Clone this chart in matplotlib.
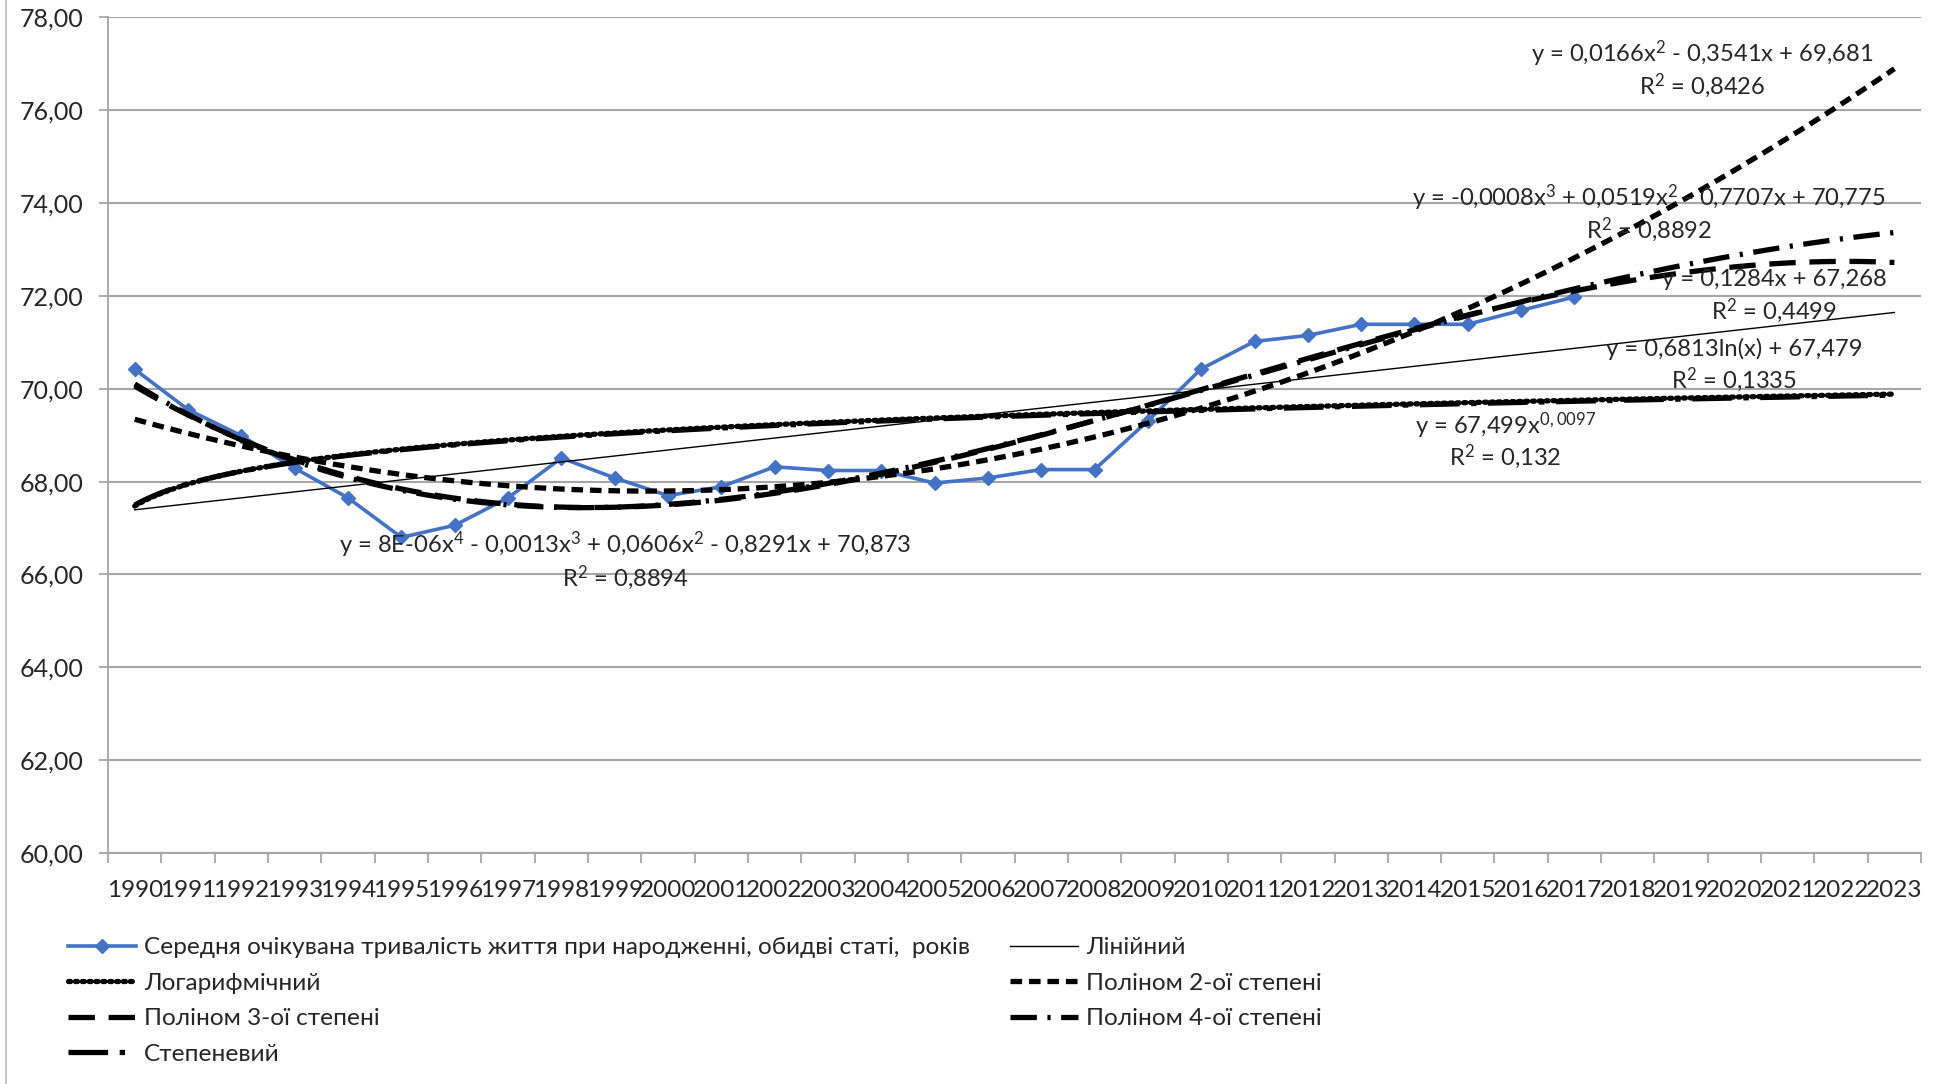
import numpy as np
import matplotlib.pyplot as plt
from matplotlib.lines import Line2D

plt.rcParams['font.family'] = ['Lato', 'DejaVu Sans']
plt.rcParams['mathtext.fontset'] = 'custom'
plt.rcParams['mathtext.rm'] = 'Lato'
plt.rcParams['mathtext.default'] = 'regular'

# Life expectancy at birth, both sexes, 1990-2017
years = list(range(1990, 2024))
life_exp = [70.42, 69.55, 68.99, 68.29, 67.65, 66.80, 67.06, 67.65, 68.51, 68.08,
            67.70, 67.89, 68.32, 68.24, 68.24, 67.97, 68.08, 68.26, 68.26, 69.31,
            70.43, 71.02, 71.15, 71.39, 71.39, 71.39, 71.69, 71.98]

series_label = "Середня очікувана тривалість життя при народженні, обидві статі,  років"
trend_names = ["Лінійний", "Логарифмічний", "Поліном 2-ої степені",
               "Поліном 3-ої степені", "Поліном 4-ої степені", "Степеневий"]

eq_linear = ["y = 0,1284x + 67,268", "R$^2$ = 0,4499"]
eq_log = ["y = 0,6813ln(x) + 67,479", "R$^2$ = 0,1335"]
eq_poly2 = ["y = 0,0166x$^2$ - 0,3541x + 69,681", "R$^2$ = 0,8426"]
eq_poly3 = ["y = -0,0008x$^3$ + 0,0519x$^2$ - 0,7707x + 70,775", "R$^2$ = 0,8892"]
eq_poly4 = ["y = 8E-06x$^4$ - 0,0013x$^3$ + 0,0606x$^2$ - 0,8291x + 70,873", "R$^2$ = 0,8894"]
eq_power = ["y = 67,499x$^{0,0097}$", "R$^2$ = 0,132"]

# trendlines are least-squares fits over x = 1..n, forecast to the last category
x = np.arange(1, len(life_exp) + 1)
y = np.array(life_exp)
xf = np.linspace(1, len(years), 400)
lin = np.polyval(np.polyfit(x, y, 1), xf)
logf = np.polyval(np.polyfit(np.log(x), y, 1), np.log(xf))
p2 = np.polyval(np.polyfit(x, y, 2), xf)
p3 = np.polyval(np.polyfit(x, y, 3), xf)
p4 = np.polyval(np.polyfit(x, y, 4), xf)
b, lna = np.polyfit(np.log(x), np.log(y), 1)
pw = np.exp(lna) * xf ** b

fig = plt.figure(figsize=(19.44, 10.84), dpi=100)
ax = fig.add_axes([0.0556, 0.2131, 0.9326, 0.7708])

grid_c = '#a6a6a6'
text_c = '#262626'
blue = '#4472c4'
ax.plot(np.arange(len(life_exp)), life_exp, color=blue, lw=2.6, marker='D',
        markersize=7, zorder=2, label=series_label)

lw = 3.8
styles = {
    "Лінійний": dict(ls='-', lw=1.0),
    "Логарифмічний": dict(ls=(0, (0.4, 0.9)), lw=lw, dash_capstyle='round'),
    "Поліном 2-ої степені": dict(ls=(0, (2.2, 1.3)), lw=lw),
    "Поліном 3-ої степені": dict(ls=(0, (5.0, 2.6)), lw=lw),
    "Поліном 4-ої степені": dict(ls=(0, (5.0, 2.0, 0.6, 2.0)), lw=lw),
    "Степеневий": dict(ls=(0, (7.5, 2.2, 1.0, 2.2)), lw=lw),
}
curves = [lin, logf, p2, p3, p4, pw]
handles = {series_label: ax.lines[0]}
for name, yv in zip(trend_names, curves):
    h, = ax.plot(xf - 1, yv, color='black', zorder=3, label=name, **styles[name])
    handles[name] = h

ax.set_xlim(-0.5, len(years) - 0.5)
ax.set_ylim(60, 78)
ax.set_yticks(np.arange(60, 79, 2))
ax.set_yticklabels([f"{v:.2f}".replace('.', ',') for v in np.arange(60, 79, 2)])
ax.set_xticks(np.arange(len(years)))
ax.set_xticklabels([str(yr) for yr in years])
ax.set_xticks(np.arange(len(years) + 1) - 0.5, minor=True)
ax.tick_params(axis='x', which='major', length=0, pad=19.5, labelsize=17.5, colors=text_c)
ax.tick_params(axis='x', which='minor', length=7, width=1.3, color=grid_c)
ax.tick_params(axis='y', length=6.5, width=1.3, color=grid_c, labelsize=18,
               labelcolor=text_c, pad=11)
ax.grid(axis='y', color=grid_c, lw=1.5)
ax.set_axisbelow(True)
for s in ['top', 'right']:
    ax.spines[s].set_visible(False)
ax.spines['left'].set_color(grid_c)
ax.spines['bottom'].set_color(grid_c)
ax.spines['left'].set_linewidth(1.3)
ax.spines['bottom'].set_linewidth(1.5)

# equation labels
eq_fs = 17.1
def put_eq(lines, xc, y1, y2):
    ax.text(xc, y1, lines[0], ha='center', va='center', fontsize=eq_fs, color=text_c, zorder=4)
    ax.text(xc, y2, lines[1], ha='center', va='center', fontsize=eq_fs, color=text_c, zorder=4)

put_eq(eq_poly4, 9.2, 66.63, 65.94)
put_eq(eq_poly2, 29.4, 77.22, 76.53)
put_eq(eq_poly3, 28.4, 74.12, 73.43)
put_eq(eq_linear, 30.75, 72.36, 71.69)
put_eq(eq_log, 30.0, 70.86, 70.19)
put_eq(eq_power, 25.7, 69.2, 68.53)

# legend in two columns
col1 = [series_label, "Логарифмічний", "Поліном 3-ої степені", "Степеневий"]
col2 = ["Лінійний", "Поліном 2-ої степені", "Поліном 4-ої степені"]
leg_kw = dict(frameon=False, fontsize=17.6, handlelength=2.8, handletextpad=0.3,
              labelspacing=0.59, borderpad=0, borderaxespad=0, loc='upper left',
              labelcolor=text_c)
fig.legend([handles[n] for n in col1], col1, bbox_to_anchor=(68 / 1944, 1 - 937 / 1084), **leg_kw)
fig.legend([handles[n] for n in col2], col2, bbox_to_anchor=(1010 / 1944, 1 - 937 / 1084), **leg_kw)

# chart area border on the left
fig.add_artist(Line2D([6 / 1944, 6 / 1944], [0, 1], color='#bfbfbf', lw=1.2))

fig.savefig('out.png', dpi=100)
